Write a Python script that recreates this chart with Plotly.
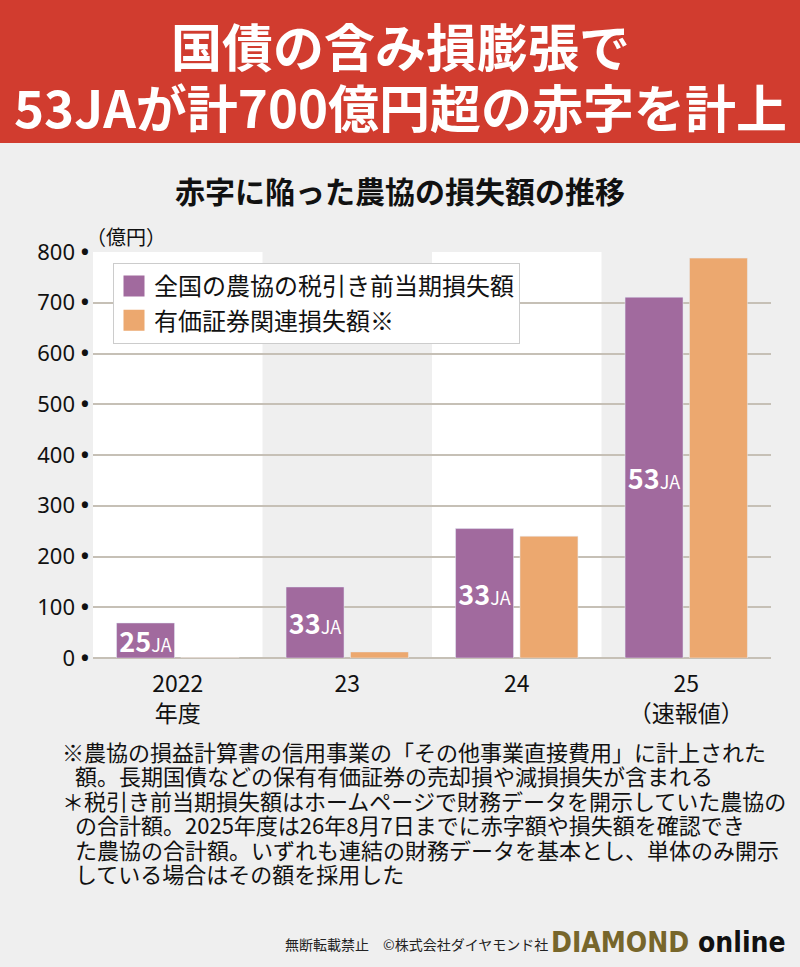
import plotly.graph_objects as go

# ---- data ----
years = ["2022", "23", "24", "25"]
year_labels = ["2022<br>年度", "23", "24", "25<br>（速報値）"]
pretax_loss = [69, 140, 255, 711]        # 全国の農協の税引き前当期損失額（億円）
securities_loss = [1, 12, 240, 788]      # 有価証券関連損失額（億円）
ja_counts = [25, 33, 33, 53]
series_names = ["全国の農協の税引き前当期損失額", "有価証券関連損失額※"]
y_ticks = [0, 100, 200, 300, 400, 500, 600, 700, 800]

title_lines = ["国債の含み損膨張で", "53JAが計700億円超の赤字を計上"]
subtitle = "赤字に陥った農協の損失額の推移"
unit_label = "（億円）"
notes = [
    ("※農協の損益計算書の信用事業の「その他事業直接費用」に計上された", 0),
    ("額。長期国債などの保有有価証券の売却損や減損損失が含まれる", 1),
    ("＊税引き前当期損失額はホームページで財務データを開示していた農協の", 0),
    ("の合計額。2025年度は26年8月7日までに赤字額や損失額を確認でき", 1),
    ("た農協の合計額。いずれも連結の財務データを基本とし、単体のみ開示", 1),
    ("している場合はその額を採用した", 1),
]
copyright_text = "無断転載禁止　©株式会社ダイヤモンド社"

# ---- style ----
W, H = 800, 967
ML, MR, MT, MB = 93, 29, 252, 309
PURPLE = "#a16a9e"
ORANGE = "#eca86f"
RED = "#d13c2f"
BG = "#efefef"
GRID = "#c6c0b6"
FONT = "Noto Sans CJK JP"

pw = W - ML - MR
ph = H - MT - MB


def px2x(px):
    return (px - ML) / pw


def px2y(py):
    return (H - MB - py) / ph


fig = go.Figure()

bar_text = [f"<b>{n}</b><span style='font-size:18px'>JA</span>" for n in ja_counts]

fig.add_trace(go.Bar(
    x=years, y=pretax_loss, name=series_names[0], marker_color=PURPLE,
    text=bar_text, textposition="inside", insidetextanchor="middle",
    constraintext="none", textangle=0,
    textfont=dict(family=FONT, size=27, color="white"),
    showlegend=False, hoverinfo="skip",
))
fig.add_trace(go.Bar(
    x=years, y=securities_loss, name=series_names[1], marker_color=ORANGE,
    showlegend=False, hoverinfo="skip",
))

# legend entries with larger swatches
for name, col in zip(series_names, [PURPLE, ORANGE]):
    fig.add_trace(go.Scatter(
        x=[None], y=[None], mode="markers", name=name, legendgroup=name,
        marker=dict(symbol="square", size=16, color=col, line=dict(color=col, width=5)),
        showlegend=True, hoverinfo="skip",
    ))

shapes = [
    # red title band
    dict(type="rect", xref="paper", yref="paper", x0=px2x(0), x1=px2x(W),
         y0=px2y(143), y1=px2y(0), fillcolor=RED, line=dict(width=0), layer="below"),
]
for i in (0, 2):
    shapes.append(dict(type="rect", xref="x", yref="y domain", x0=i - 0.5, x1=i + 0.5,
                       y0=0, y1=1, fillcolor="white", line=dict(width=0), layer="below"))

annotations = []
for txt, cy in zip(title_lines, [45, 106]):
    annotations.append(dict(text=f"<b>{txt}</b>", x=px2x(400), y=px2y(cy), xref="paper", yref="paper",
                            xanchor="center", yanchor="middle", showarrow=False,
                            font=dict(family=FONT, size=51, color="white")))
annotations.append(dict(text=f"<b>{subtitle}</b>", x=px2x(400), y=px2y(190), xref="paper", yref="paper",
                        xanchor="center", yanchor="middle", showarrow=False,
                        font=dict(family=FONT, size=30, color="#111111")))
annotations.append(dict(text=unit_label, x=px2x(84), y=px2y(236), xref="paper", yref="paper",
                        xanchor="left", yanchor="middle", showarrow=False,
                        font=dict(family=FONT, size=20, color="#111111")))
for k, (txt, indent) in enumerate(notes):
    annotations.append(dict(text=txt, x=px2x(60 + 13 * indent), y=px2y(751 + 24.4 * k),
                            xref="paper", yref="paper", xanchor="left", yanchor="middle",
                            showarrow=False, font=dict(family=FONT, size=22, color="#111111")))
annotations.append(dict(text=copyright_text, x=px2x(416), y=px2y(944), xref="paper", yref="paper",
                        xanchor="center", yanchor="middle", showarrow=False,
                        font=dict(family=FONT, size=14, color="#222222")))
annotations.append(dict(text="<b><span style='color:#77662b'>DIAMOND</span> online</b>",
                        x=px2x(788), y=px2y(942), xref="paper", yref="paper",
                        xanchor="right", yanchor="middle", showarrow=False,
                        font=dict(family="DejaVu Sans Condensed", size=28, color="#111111")))

y_ticktext = [f"{v} <b>•</b>" for v in y_ticks]

fig.update_layout(
    width=W, height=H, autosize=False,
    margin=dict(l=ML, r=MR, t=MT, b=MB, pad=0),
    paper_bgcolor=BG, plot_bgcolor=BG,
    barmode="group", bargap=0.24, bargroupgap=0.1,
    font=dict(family=FONT, color="#111111"),
    shapes=shapes, annotations=annotations,
    showlegend=True,
    legend=dict(x=px2x(113), y=px2y(263), xanchor="left", yanchor="top",
                bgcolor="white", bordercolor="#cccccc", borderwidth=1,
                font=dict(family=FONT, size=24, color="#111111"),
                itemsizing="trace", tracegroupgap=3, traceorder="normal"),
    xaxis=dict(type="category", tickvals=years, ticktext=year_labels, showgrid=False,
               ticks="", showline=False, zeroline=False, ticklabelstandoff=10,
               tickfont=dict(family=FONT, size=23, color="#111111")),
    yaxis=dict(range=[0, 800], tickvals=y_ticks, ticktext=y_ticktext, showgrid=True,
               gridcolor=GRID, gridwidth=2, zeroline=True, zerolinecolor=GRID, zerolinewidth=2,
               ticks="", showline=False, ticklabelstandoff=3,
               tickfont=dict(family="Noto Sans", size=22, color="#111111")),
)

fig.write_html("out.html", config={"displayModeBar": False},
               post_script="document.body.style.margin='0px';")
